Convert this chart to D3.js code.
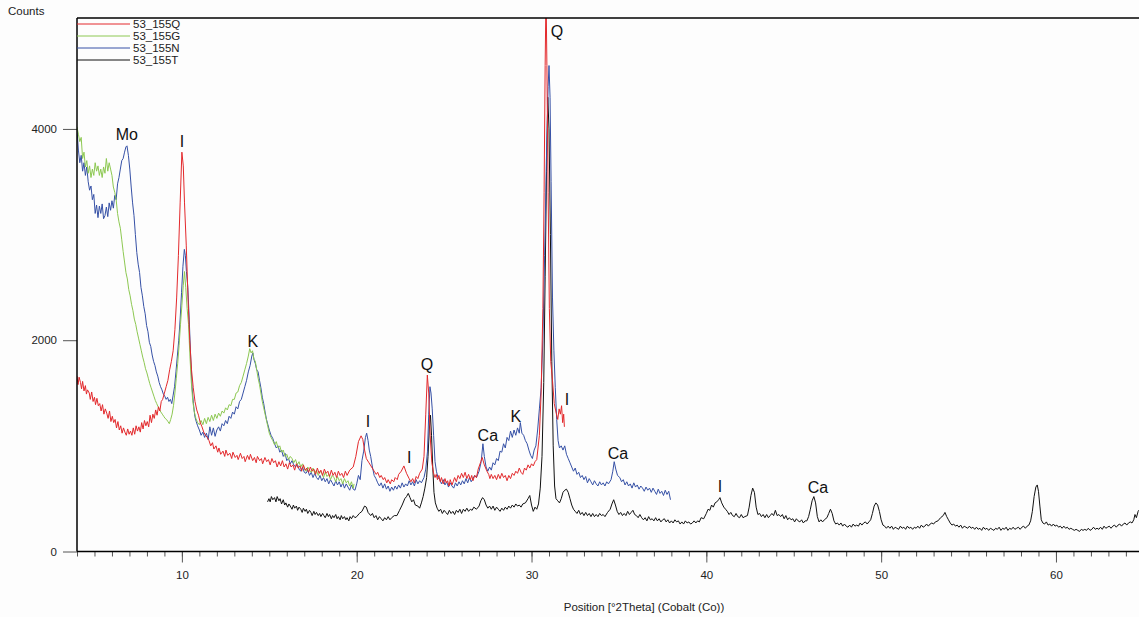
<!DOCTYPE html>
<html>
<head>
<meta charset="utf-8">
<script src="https://cdn.jsdelivr.net/npm/d3@7"></script>
<style>
html,body{margin:0;padding:0;background:#fdfdfd;}
svg{display:block;font-family:"Liberation Sans",Arial,sans-serif;}
</style>
</head>
<body>
<svg id="chart" width="1139" height="617"></svg>
<script>
// ---------- DATA (2Theta degrees, counts) ----------
const seriesNames = ["53_155Q", "53_155G", "53_155N", "53_155T"];
const seriesColors = ["#e3292c", "#8dc852", "#3651a6", "#111111"];

const dataQ = [[4.00,1660],[4.06,1580],[4.12,1650],[4.20,1600],[4.26,1540],[4.32,1610],[4.40,1520],[4.48,1570],[4.54,1490],[4.60,1530],[4.70,1500],[4.76,1440],[4.84,1510],[4.92,1420],[5.00,1460],[5.06,1390],[5.14,1450],[5.22,1380],[5.30,1400],[5.38,1330],[5.46,1390],[5.54,1300],[5.62,1350],[5.70,1310],[5.78,1260],[5.86,1330],[5.94,1230],[6.02,1280],[6.10,1220],[6.18,1250],[6.26,1170],[6.34,1230],[6.42,1150],[6.50,1190],[6.58,1120],[6.66,1170],[6.74,1130],[6.82,1100],[6.90,1160],[6.98,1110],[7.06,1140],[7.14,1100],[7.22,1170],[7.30,1110],[7.38,1190],[7.46,1140],[7.54,1180],[7.62,1130],[7.70,1220],[7.78,1160],[7.86,1240],[7.94,1190],[8.02,1230],[8.10,1180],[8.18,1290],[8.26,1220],[8.34,1300],[8.42,1260],[8.50,1340],[8.58,1290],[8.66,1370],[8.74,1330],[8.82,1420],[8.90,1440],[9.00,1500],[9.10,1560],[9.20,1620],[9.30,1720],[9.40,1800],[9.50,1900],[9.60,2100],[9.70,2400],[9.80,2800],[9.90,3300],[10.00,3780],[10.08,3650],[10.15,3300],[10.25,2900],[10.35,2400],[10.45,2000],[10.55,1720],[10.65,1550],[10.75,1420],[10.85,1340],[10.95,1290],[11.05,1220],[11.15,1180],[11.25,1130],[11.35,1100],[11.45,1080],[11.55,1050],[11.65,1000],[11.75,1030],[11.83,970],[11.95,1000],[12.05,940],[12.12,980],[12.22,920],[12.35,950],[12.45,900],[12.52,960],[12.62,910],[12.75,930],[12.85,880],[12.92,940],[13.05,890],[13.15,910],[13.22,870],[13.35,930],[13.45,880],[13.55,900],[13.62,850],[13.75,910],[13.85,870],[13.92,920],[14.05,860],[14.15,890],[14.25,840],[14.32,900],[14.45,860],[14.55,880],[14.62,830],[14.75,890],[14.85,850],[14.95,870],[15.05,820],[15.15,880],[15.25,840],[15.35,860],[15.45,800],[15.55,850],[15.65,810],[15.75,860],[15.85,800],[15.95,830],[16.05,780],[16.15,840],[16.25,800],[16.35,820],[16.45,770],[16.55,830],[16.65,790],[16.75,810],[16.85,760],[16.95,820],[17.05,770],[17.15,790],[17.25,750],[17.35,800],[17.45,760],[17.55,780],[17.65,730],[17.75,790],[17.85,740],[17.95,770],[18.05,720],[18.15,780],[18.25,740],[18.35,760],[18.45,710],[18.55,770],[18.65,720],[18.75,750],[18.85,700],[18.95,760],[19.05,720],[19.15,740],[19.25,700],[19.35,760],[19.45,720],[19.60,770],[19.80,800],[19.95,900],[20.10,1040],[20.25,1095],[20.35,1060],[20.45,960],[20.55,880],[20.70,840],[20.85,800],[21.00,760],[21.12,730],[21.20,750],[21.32,700],[21.40,720],[21.52,680],[21.60,700],[21.72,650],[21.80,680],[21.92,640],[22.00,680],[22.12,660],[22.20,700],[22.32,680],[22.40,730],[22.55,760],[22.70,810],[22.85,740],[23.00,690],[23.10,660],[23.20,690],[23.30,650],[23.40,710],[23.50,690],[23.60,740],[23.75,780],[23.85,900],[23.95,1300],[24.04,1670],[24.12,1500],[24.20,1100],[24.30,840],[24.40,740],[24.48,700],[24.55,730],[24.62,680],[24.70,720],[24.78,660],[24.85,700],[24.95,640],[25.05,690],[25.12,650],[25.20,670],[25.28,620],[25.35,680],[25.45,630],[25.52,660],[25.60,700],[25.70,660],[25.80,720],[25.90,690],[26.00,740],[26.10,700],[26.20,750],[26.30,690],[26.40,730],[26.50,680],[26.58,720],[26.65,670],[26.75,720],[26.85,700],[26.95,780],[27.10,850],[27.18,890],[27.30,820],[27.45,760],[27.55,730],[27.62,690],[27.70,730],[27.80,690],[27.90,720],[28.00,680],[28.10,730],[28.20,690],[28.30,740],[28.40,700],[28.50,720],[28.60,670],[28.70,720],[28.80,690],[28.90,740],[29.00,720],[29.10,760],[29.20,740],[29.30,790],[29.40,750],[29.50,730],[29.60,790],[29.70,770],[29.80,820],[29.90,790],[30.00,830],[30.10,810],[30.20,850],[30.30,870],[30.45,1100],[30.55,1500],[30.65,2300],[30.72,3400],[30.78,4600],[30.83,5300],[30.88,4600],[30.95,3400],[31.02,2300],[31.10,1800],[31.20,1620],[31.30,1400],[31.40,1320],[31.50,1250],[31.58,1350],[31.65,1300],[31.72,1380],[31.78,1220],[31.84,1300],[31.88,1180]];

const dataG = [[4.00,4020],[4.08,3950],[4.16,3880],[4.24,3920],[4.32,3720],[4.40,3780],[4.48,3640],[4.56,3700],[4.64,3580],[4.72,3650],[4.80,3540],[4.88,3620],[4.96,3560],[5.04,3680],[5.12,3600],[5.20,3650],[5.28,3560],[5.36,3620],[5.44,3540],[5.52,3640],[5.60,3580],[5.68,3720],[5.76,3600],[5.84,3680],[5.92,3620],[6.00,3560],[6.08,3450],[6.16,3400],[6.24,3330],[6.32,3200],[6.40,3120],[6.48,3060],[6.56,2950],[6.64,2840],[6.72,2740],[6.80,2640],[6.88,2580],[6.96,2480],[7.04,2420],[7.12,2340],[7.20,2280],[7.28,2200],[7.36,2150],[7.44,2080],[7.52,2020],[7.60,1960],[7.68,1900],[7.76,1840],[7.84,1790],[7.92,1730],[8.00,1690],[8.08,1640],[8.16,1590],[8.24,1550],[8.32,1510],[8.40,1470],[8.48,1430],[8.56,1400],[8.64,1370],[8.72,1340],[8.80,1320],[8.88,1300],[8.96,1280],[9.04,1260],[9.12,1250],[9.20,1230],[9.28,1210],[9.36,1250],[9.44,1300],[9.52,1380],[9.60,1500],[9.68,1640],[9.76,1780],[9.84,1950],[9.92,2150],[10.00,2330],[10.08,2520],[10.15,2650],[10.22,2500],[10.30,2300],[10.38,2150],[10.46,1850],[10.54,1600],[10.62,1430],[10.70,1330],[10.80,1260],[10.90,1220],[11.00,1200],[11.10,1240],[11.20,1200],[11.30,1260],[11.40,1210],[11.50,1270],[11.60,1230],[11.70,1290],[11.80,1240],[11.90,1300],[12.00,1260],[12.10,1310],[12.20,1280],[12.30,1330],[12.40,1310],[12.50,1360],[12.60,1340],[12.70,1390],[12.80,1380],[12.90,1440],[13.00,1440],[13.10,1500],[13.20,1510],[13.30,1570],[13.40,1600],[13.50,1660],[13.60,1720],[13.70,1780],[13.80,1850],[13.88,1920],[13.96,1880],[14.04,1900],[14.12,1820],[14.20,1800],[14.28,1720],[14.36,1640],[14.44,1580],[14.52,1500],[14.60,1420],[14.68,1360],[14.76,1300],[14.84,1240],[14.92,1180],[15.00,1120],[15.10,1080],[15.20,1050],[15.30,1010],[15.40,1040],[15.50,980],[15.60,1000],[15.70,940],[15.80,960],[15.90,900],[16.00,920],[16.10,870],[16.20,900],[16.30,880],[16.40,840],[16.50,870],[16.60,820],[16.70,850],[16.80,800],[16.90,830],[17.00,790],[17.10,760],[17.20,800],[17.30,770],[17.40,750],[17.50,790],[17.60,740],[17.70,770],[17.80,720],[17.90,760],[18.00,740],[18.10,700],[18.20,750],[18.30,710],[18.40,730],[18.50,680],[18.60,720],[18.70,700],[18.80,660],[18.90,710],[19.00,670],[19.10,690],[19.20,640],[19.30,690],[19.40,650],[19.50,670],[19.60,620],[19.70,660],[19.80,600],[19.85,640]];

const dataN = [[4.00,3990],[4.08,3800],[4.16,3680],[4.24,3750],[4.32,3600],[4.40,3680],[4.48,3560],[4.56,3640],[4.64,3500],[4.72,3420],[4.80,3460],[4.88,3330],[4.96,3380],[5.04,3200],[5.12,3280],[5.20,3160],[5.28,3270],[5.36,3200],[5.44,3290],[5.52,3150],[5.60,3180],[5.68,3260],[5.76,3170],[5.84,3300],[5.92,3230],[6.00,3320],[6.08,3250],[6.16,3370],[6.24,3330],[6.32,3480],[6.40,3540],[6.48,3620],[6.56,3700],[6.64,3720],[6.72,3780],[6.80,3830],[6.86,3840],[6.94,3750],[7.02,3620],[7.10,3450],[7.18,3300],[7.26,3180],[7.34,3000],[7.42,2830],[7.50,2720],[7.58,2640],[7.66,2500],[7.74,2420],[7.82,2320],[7.90,2250],[7.98,2140],[8.06,2080],[8.14,1980],[8.22,1940],[8.30,1860],[8.38,1800],[8.46,1760],[8.54,1700],[8.62,1660],[8.70,1600],[8.78,1560],[8.86,1530],[8.94,1490],[9.02,1470],[9.10,1440],[9.18,1460],[9.26,1420],[9.34,1440],[9.42,1400],[9.50,1480],[9.58,1560],[9.66,1700],[9.74,1850],[9.82,2000],[9.90,2200],[9.98,2450],[10.06,2700],[10.14,2860],[10.20,2800],[10.26,2650],[10.34,2500],[10.42,2200],[10.50,1850],[10.58,1560],[10.66,1400],[10.74,1280],[10.82,1230],[10.90,1190],[11.00,1150],[11.10,1100],[11.20,1130],[11.30,1080],[11.40,1120],[11.50,1060],[11.60,1180],[11.70,1100],[11.80,1170],[11.90,1090],[12.00,1150],[12.10,1180],[12.20,1140],[12.30,1210],[12.40,1190],[12.50,1240],[12.60,1210],[12.70,1280],[12.80,1260],[12.90,1320],[13.00,1300],[13.10,1370],[13.20,1350],[13.30,1420],[13.40,1440],[13.50,1500],[13.60,1560],[13.70,1620],[13.80,1700],[13.90,1760],[14.00,1850],[14.06,1880],[14.12,1820],[14.20,1780],[14.28,1720],[14.36,1700],[14.44,1620],[14.52,1550],[14.60,1460],[14.68,1400],[14.76,1320],[14.84,1250],[14.92,1200],[15.00,1150],[15.10,1100],[15.20,1070],[15.30,1020],[15.40,980],[15.50,1000],[15.60,940],[15.70,960],[15.80,900],[15.90,930],[16.00,860],[16.10,880],[16.20,830],[16.30,860],[16.40,820],[16.50,800],[16.60,830],[16.70,780],[16.80,760],[16.90,800],[17.00,750],[17.10,740],[17.20,770],[17.30,720],[17.40,750],[17.50,700],[17.60,740],[17.70,700],[17.80,680],[17.90,720],[18.00,670],[18.10,700],[18.20,660],[18.30,690],[18.40,640],[18.50,680],[18.60,650],[18.70,620],[18.80,670],[18.90,630],[19.00,660],[19.10,610],[19.20,650],[19.30,600],[19.40,640],[19.50,610],[19.60,580],[19.70,630],[19.80,590],[19.90,580],[20.00,640],[20.10,720],[20.20,680],[20.30,860],[20.40,950],[20.50,1080],[20.57,1120],[20.65,1050],[20.72,960],[20.80,900],[20.90,800],[21.00,720],[21.10,690],[21.20,650],[21.30,620],[21.40,650],[21.50,600],[21.60,640],[21.70,590],[21.80,620],[21.90,570],[22.00,610],[22.10,580],[22.20,620],[22.30,590],[22.40,630],[22.50,600],[22.60,650],[22.70,610],[22.80,640],[22.90,620],[23.00,670],[23.10,630],[23.20,660],[23.30,620],[23.40,680],[23.50,640],[23.60,670],[23.70,650],[23.85,700],[23.95,780],[24.05,950],[24.12,1300],[24.19,1560],[24.25,1500],[24.32,1350],[24.40,1100],[24.48,850],[24.56,760],[24.65,700],[24.75,680],[24.85,640],[24.95,680],[25.05,630],[25.15,660],[25.25,610],[25.35,650],[25.45,620],[25.55,600],[25.65,650],[25.75,620],[25.85,660],[25.95,630],[26.05,670],[26.15,640],[26.25,690],[26.35,650],[26.45,700],[26.55,660],[26.65,690],[26.75,720],[26.85,700],[27.00,760],[27.12,850],[27.22,1020],[27.30,900],[27.40,800],[27.50,760],[27.60,800],[27.70,770],[27.80,840],[27.90,820],[28.00,880],[28.10,860],[28.20,950],[28.30,940],[28.40,1020],[28.50,980],[28.60,1080],[28.70,1050],[28.80,1140],[28.90,1080],[29.00,1150],[29.10,1100],[29.20,1170],[29.30,1120],[29.36,1220],[29.45,1120],[29.55,1100],[29.65,1050],[29.75,1020],[29.85,960],[29.95,910],[30.05,880],[30.15,960],[30.25,1000],[30.35,1150],[30.45,1350],[30.55,1550],[30.65,2000],[30.75,2800],[30.85,3700],[30.95,4400],[31.00,4600],[31.06,4300],[31.12,3500],[31.20,2400],[31.28,1900],[31.36,1550],[31.44,1250],[31.52,1050],[31.60,980],[31.70,1000],[31.80,960],[31.90,1000],[32.00,920],[32.10,880],[32.20,840],[32.30,800],[32.40,760],[32.50,790],[32.60,730],[32.70,750],[32.80,700],[32.90,720],[33.00,680],[33.10,710],[33.20,650],[33.30,690],[33.40,660],[33.50,630],[33.60,670],[33.70,640],[33.80,620],[33.90,660],[34.00,630],[34.10,650],[34.20,620],[34.30,660],[34.40,640],[34.55,680],[34.65,760],[34.73,850],[34.82,780],[34.92,720],[35.05,700],[35.15,660],[35.25,680],[35.35,630],[35.45,660],[35.55,620],[35.65,640],[35.75,600],[35.85,650],[35.95,610],[36.05,630],[36.15,590],[36.25,620],[36.35,600],[36.45,570],[36.55,610],[36.65,580],[36.75,600],[36.85,560],[36.95,600],[37.05,570],[37.15,540],[37.25,590],[37.35,550],[37.45,570],[37.55,530],[37.65,580],[37.75,540],[37.85,570],[37.95,490]];

const dataT = [[14.90,470],[14.98,500],[15.05,470],[15.12,520],[15.20,490],[15.30,510],[15.38,470],[15.45,520],[15.55,480],[15.62,500],[15.70,450],[15.80,490],[15.88,440],[15.95,460],[16.05,420],[16.12,450],[16.20,430],[16.30,400],[16.38,440],[16.45,410],[16.55,430],[16.62,390],[16.70,420],[16.80,400],[16.88,370],[16.95,410],[17.05,380],[17.12,400],[17.20,360],[17.30,390],[17.38,370],[17.45,340],[17.55,380],[17.62,350],[17.70,370],[17.80,340],[17.88,360],[17.95,330],[18.05,360],[18.12,340],[18.20,320],[18.30,360],[18.38,330],[18.45,350],[18.55,310],[18.62,340],[18.70,320],[18.80,350],[18.88,310],[18.95,330],[19.05,300],[19.12,340],[19.20,310],[19.30,330],[19.38,300],[19.45,320],[19.55,290],[19.62,330],[19.70,310],[19.80,340],[19.90,320],[20.00,330],[20.15,360],[20.30,380],[20.45,430],[20.55,420],[20.65,370],[20.80,340],[20.90,360],[21.00,320],[21.10,340],[21.20,300],[21.30,330],[21.40,310],[21.50,290],[21.60,320],[21.70,300],[21.80,330],[21.90,300],[22.00,320],[22.15,340],[22.30,340],[22.45,390],[22.60,440],[22.75,500],[22.85,520],[22.95,550],[23.05,510],[23.15,470],[23.25,490],[23.35,440],[23.50,430],[23.60,410],[23.70,460],[23.80,520],[23.90,600],[24.00,700],[24.08,900],[24.15,1150],[24.22,1290],[24.28,1100],[24.35,800],[24.42,560],[24.50,460],[24.60,410],[24.70,380],[24.80,400],[24.90,360],[25.00,390],[25.10,370],[25.20,350],[25.30,390],[25.40,360],[25.50,380],[25.60,350],[25.70,390],[25.80,370],[25.90,400],[26.00,360],[26.10,400],[26.20,380],[26.30,410],[26.40,380],[26.50,400],[26.60,390],[26.70,420],[26.85,400],[27.00,430],[27.10,480],[27.20,510],[27.30,490],[27.40,440],[27.50,410],[27.60,430],[27.70,400],[27.80,430],[27.90,390],[28.00,420],[28.10,400],[28.20,380],[28.30,410],[28.40,390],[28.50,420],[28.60,400],[28.70,430],[28.80,410],[28.90,440],[29.00,420],[29.10,450],[29.20,430],[29.30,440],[29.40,420],[29.50,450],[29.65,460],[29.80,500],[29.90,530],[30.00,440],[30.10,380],[30.20,420],[30.30,400],[30.40,450],[30.50,600],[30.60,900],[30.70,1600],[30.78,2600],[30.86,3600],[30.93,4300],[31.00,4000],[31.08,3000],[31.16,1800],[31.24,1000],[31.32,620],[31.40,500],[31.50,480],[31.60,460],[31.70,500],[31.80,560],[31.90,580],[32.00,590],[32.10,560],[32.20,500],[32.30,440],[32.40,400],[32.50,380],[32.60,360],[32.70,390],[32.80,350],[32.90,370],[33.00,340],[33.10,370],[33.20,340],[33.30,360],[33.40,330],[33.50,360],[33.60,330],[33.70,350],[33.80,330],[33.90,360],[34.00,340],[34.10,350],[34.20,330],[34.35,370],[34.50,400],[34.60,450],[34.70,490],[34.80,440],[34.90,380],[35.00,350],[35.10,370],[35.20,340],[35.30,360],[35.40,340],[35.50,380],[35.60,350],[35.70,370],[35.80,390],[35.90,350],[36.00,340],[36.10,320],[36.20,350],[36.30,320],[36.40,300],[36.50,320],[36.60,290],[36.70,330],[36.80,300],[36.90,310],[37.00,290],[37.10,320],[37.20,290],[37.30,310],[37.40,280],[37.50,300],[37.60,310],[37.70,280],[37.80,300],[37.90,270],[38.00,290],[38.10,270],[38.20,300],[38.30,280],[38.40,290],[38.50,260],[38.60,280],[38.70,260],[38.80,290],[38.90,270],[39.00,280],[39.10,260],[39.20,270],[39.30,290],[39.40,270],[39.50,290],[39.60,280],[39.70,320],[39.85,310],[40.00,360],[40.10,400],[40.20,390],[40.30,440],[40.40,420],[40.50,460],[40.60,470],[40.70,490],[40.78,510],[40.88,460],[41.00,420],[41.10,400],[41.20,380],[41.30,350],[41.40,370],[41.50,340],[41.60,330],[41.70,360],[41.80,330],[41.90,320],[42.00,350],[42.10,320],[42.20,330],[42.35,340],[42.45,420],[42.55,530],[42.65,600],[42.75,560],[42.85,420],[42.95,350],[43.05,360],[43.15,330],[43.25,350],[43.35,320],[43.45,350],[43.55,320],[43.65,340],[43.75,360],[43.85,340],[43.95,390],[44.05,340],[44.15,350],[44.25,330],[44.35,350],[44.45,310],[44.55,340],[44.65,300],[44.75,320],[44.85,300],[44.95,310],[45.05,280],[45.15,310],[45.25,290],[45.35,280],[45.45,300],[45.55,270],[45.65,290],[45.75,290],[45.85,330],[45.95,400],[46.05,480],[46.15,520],[46.25,460],[46.35,330],[46.45,280],[46.55,300],[46.65,280],[46.75,300],[46.90,320],[47.00,360],[47.10,400],[47.20,360],[47.30,290],[47.40,260],[47.50,270],[47.60,250],[47.70,270],[47.80,240],[47.90,260],[48.00,240],[48.10,230],[48.20,250],[48.30,230],[48.40,260],[48.50,240],[48.60,250],[48.70,240],[48.80,270],[48.90,250],[49.00,270],[49.10,280],[49.20,260],[49.30,280],[49.40,300],[49.50,360],[49.60,430],[49.70,460],[49.80,440],[49.90,380],[50.00,300],[50.10,250],[50.20,240],[50.30,220],[50.40,240],[50.50,220],[50.60,240],[50.70,210],[50.80,230],[50.90,220],[51.00,210],[51.10,240],[51.20,220],[51.30,230],[51.40,210],[51.50,240],[51.60,220],[51.70,230],[51.80,210],[51.90,230],[52.00,220],[52.10,240],[52.20,220],[52.30,250],[52.40,230],[52.50,240],[52.60,260],[52.70,240],[52.80,260],[52.90,270],[53.00,260],[53.10,280],[53.25,290],[53.40,320],[53.55,340],[53.65,370],[53.75,330],[53.85,300],[53.95,270],[54.05,250],[54.15,260],[54.25,240],[54.35,250],[54.45,230],[54.55,250],[54.65,220],[54.75,240],[54.85,230],[54.95,220],[55.05,240],[55.15,220],[55.25,230],[55.35,210],[55.45,230],[55.55,210],[55.65,220],[55.75,200],[55.85,230],[55.95,210],[56.05,220],[56.15,200],[56.25,220],[56.35,210],[56.45,200],[56.55,220],[56.65,210],[56.75,230],[56.85,200],[56.95,220],[57.05,210],[57.15,230],[57.25,200],[57.35,220],[57.45,210],[57.55,230],[57.65,210],[57.75,220],[57.85,230],[57.95,210],[58.05,230],[58.15,240],[58.25,220],[58.35,240],[58.45,250],[58.55,290],[58.65,380],[58.75,520],[58.85,610],[58.93,630],[59.00,570],[59.08,430],[59.16,300],[59.25,270],[59.35,260],[59.45,280],[59.55,250],[59.65,260],[59.75,240],[59.85,260],[59.95,240],[60.05,250],[60.15,230],[60.25,240],[60.35,220],[60.45,240],[60.55,220],[60.65,230],[60.75,210],[60.85,220],[60.95,210],[61.05,200],[61.15,210],[61.25,200],[61.35,190],[61.45,210],[61.55,200],[61.65,210],[61.75,200],[61.85,220],[61.95,200],[62.05,210],[62.15,230],[62.25,210],[62.35,220],[62.45,210],[62.55,230],[62.65,210],[62.75,240],[62.85,220],[62.95,230],[63.05,240],[63.15,220],[63.25,240],[63.35,250],[63.45,230],[63.55,250],[63.65,260],[63.75,240],[63.85,260],[63.95,270],[64.05,250],[64.15,270],[64.25,280],[64.35,270],[64.45,300],[64.52,350],[64.60,320],[64.70,380],[64.80,400]];

const yTickValues = [0, 2000, 4000];
const xMajorTicks = [10, 20, 30, 40, 50, 60];
const xMinorTicks = d3.range(4, 65, 1);

const peakLabels = [
  {t:"Mo", x:6.85, y:3897}, {t:"I", x:10.0, y:3830}, {t:"K", x:14.06, y:1935},
  {t:"Q", x:31.45, y:4871}, {t:"Q", x:24.02, y:1720}, {t:"I", x:20.64, y:1180},
  {t:"I", x:23.0, y:840}, {t:"Ca", x:27.5, y:1048}, {t:"K", x:29.1, y:1228},
  {t:"I", x:32.03, y:1389}, {t:"Ca", x:34.94, y:877}, {t:"I", x:40.78, y:565},
  {t:"Ca", x:46.38, y:556}
];

const allSeries = [dataQ, dataG, dataN, dataT];
const drawOrder = [3, 2, 1, 0];

// ---------- CHART ----------
const svg = d3.select("#chart");
const W = 1139, H = 617;
const mLeft = 77, mRight = 1139, mTop = 18, mBottom = 551.5;

const x = d3.scaleLinear().domain([4, 64.75]).range([mLeft, mRight]);
const y = d3.scaleLinear().domain([0, 5050]).range([mBottom, mTop]);

svg.append("rect").attr("width", W).attr("height", H).attr("fill", "#fdfdfd");

svg.append("defs").append("clipPath").attr("id", "plotclip")
  .append("rect").attr("x", mLeft).attr("y", mTop).attr("width", mRight - mLeft).attr("height", mBottom - mTop);

const line = d3.line().x(d => x(d[0])).y(d => y(d[1]));

const plot = svg.append("g").attr("clip-path", "url(#plotclip)");
drawOrder.forEach(i => {
  plot.append("path").datum(allSeries[i])
    .attr("d", line)
    .attr("fill", "none")
    .attr("stroke", seriesColors[i])
    .attr("stroke-width", 1)
    .attr("stroke-linejoin", "round");
});

// axes
const xMinor = d3.axisBottom(x).tickValues(xMinorTicks).tickSize(5).tickFormat("");
const xMajor = d3.axisBottom(x).tickValues(xMajorTicks).tickSize(11).tickPadding(8).tickFormat(d3.format("d"));
const gxm = svg.append("g").attr("transform", `translate(0,${mBottom})`).call(xMinor);
const gx = svg.append("g").attr("transform", `translate(0,${mBottom})`).call(xMajor);
[gxm, gx].forEach(g => {
  g.select(".domain").remove();
  g.selectAll(".tick line").attr("stroke", "#555").attr("stroke-width", 1);
});
gx.selectAll(".tick text").attr("font-size", "11.5px").attr("fill", "#222")
  .attr("font-family", "Liberation Sans, Arial, sans-serif");

const yAxis = d3.axisLeft(y).tickValues(yTickValues).tickSize(14).tickPadding(6).tickFormat(d3.format("d"));
const gy = svg.append("g").attr("transform", `translate(${mLeft},0)`).call(yAxis);
gy.select(".domain").remove();
gy.selectAll(".tick line").attr("stroke", "#555").attr("stroke-width", 1);
gy.selectAll(".tick text").attr("font-size", "11.5px").attr("fill", "#222")
  .attr("font-family", "Liberation Sans, Arial, sans-serif");

// frame lines
svg.append("line").attr("x1", mLeft).attr("x2", mLeft).attr("y1", mTop).attr("y2", mBottom)
  .attr("stroke", "#000").attr("stroke-width", 1.5);
svg.append("line").attr("x1", mLeft).attr("x2", mRight).attr("y1", mBottom).attr("y2", mBottom)
  .attr("stroke", "#000").attr("stroke-width", 1.5);
svg.append("line").attr("x1", mLeft).attr("x2", mRight).attr("y1", mTop).attr("y2", mTop)
  .attr("stroke", "#000").attr("stroke-width", 1.5);

// titles
svg.append("text").attr("x", 8).attr("y", 15).text("Counts")
  .attr("font-size", "11.5px").attr("fill", "#222");
svg.append("text").attr("x", 644).attr("y", 611).attr("text-anchor", "middle")
  .text("Position [°2Theta] (Cobalt (Co))").attr("font-size", "11.5px").attr("fill", "#222");

// legend
const legend = svg.append("g");
seriesNames.forEach((n, i) => {
  const ly = 24 + i * 12;
  legend.append("line").attr("x1", mLeft).attr("x2", 130).attr("y1", ly).attr("y2", ly)
    .attr("stroke", seriesColors[i]).attr("stroke-width", 1);
  legend.append("text").attr("x", 133).attr("y", ly + 4).text(n)
    .attr("font-size", "11.5px").attr("fill", "#222");
});

// peak labels
svg.append("g").selectAll("text").data(peakLabels).join("text")
  .attr("x", d => x(d.x)).attr("y", d => y(d.y))
  .attr("text-anchor", "middle").attr("font-size", "16px").attr("fill", "#111")
  .text(d => d.t);
</script>
</body>
</html>
